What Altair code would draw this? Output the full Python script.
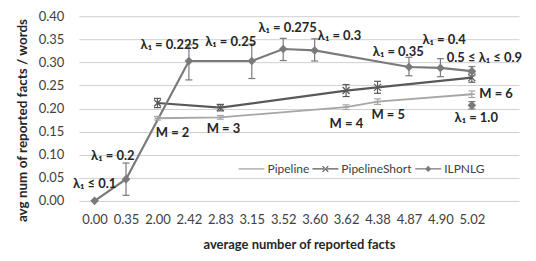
import altair as alt
import pandas as pd

categories = ["0.00", "0.35", "2.00", "2.42", "2.83", "3.15", "3.52",
              "3.60", "3.62", "4.38", "4.87", "4.90", "5.02"]

series_names = ["Pipeline", "PipelineShort", "ILPNLG"]

pipeline = [None, None, 0.179, None, 0.181, None, None, None, 0.203, 0.215, None, None, 0.231]
pipeline_err = [None, None, 0.004, None, 0.004, None, None, None, 0.005, 0.006, None, None, 0.007]

pipeline_short = [None, None, 0.212, None, 0.202, None, None, None, 0.239, 0.246, None, None, 0.267]
pipeline_short_err = [None, None, 0.010, None, 0.007, None, None, None, 0.013, 0.013, None, None, 0.010]

ilpnlg = [0.000, 0.047, None, 0.303, None, 0.303, 0.329, 0.326, None, None, 0.290, 0.288, 0.281]
ilpnlg_lo = [None, 0.012, None, 0.262, None, 0.265, 0.304, 0.303, None, None, 0.271, 0.269, 0.271]
ilpnlg_hi = [None, 0.082, None, 0.338, None, 0.340, 0.352, 0.351, None, None, 0.311, 0.308, 0.291]

# lambda_1 = 1.0 point (drawn unconnected at 5.02)
extra_cat = "5.02"
extra_val = 0.207
extra_err = 0.008

ann_text = ["λ₁ ≤ 0.1", "λ₁ = 0.2", "λ₁ = 0.225", "λ₁ = 0.25", "λ₁ = 0.275",
            "λ₁ = 0.3", "λ₁ = 0.35", "λ₁ = 0.4", "0.5 ≤ λ₁ ≤ 0.9", "λ₁ = 1.0",
            "M = 2", "M = 3", "M = 4", "M = 5", "M = 6"]
ann_x = [0.0, 0.58, 2.39, 4.33, 6.14, 7.79, 9.66, 11.12, 12.4, 12.14,
         2.48, 4.1, 8.01, 9.34, 12.77]
ann_y = [0.036, 0.097, 0.337, 0.344, 0.375, 0.357, 0.322, 0.348, 0.309, 0.179,
         0.147, 0.156, 0.166, 0.186, 0.231]

y_ticks = [0, 0.05, 0.1, 0.15, 0.2, 0.25, 0.3, 0.35, 0.4]

FONT = "Lato"
colors = {"Pipeline": "#a6a6a6", "PipelineShort": "#595959", "ILPNLG": "#7a7a7a"}


def frame(vals, lo, hi):
    rows = []
    for i, v in enumerate(vals):
        if v is None:
            continue
        rows.append({"x": i, "y": v, "lo": lo[i] if lo[i] is not None else v,
                     "hi": hi[i] if hi[i] is not None else v})
    return pd.DataFrame(rows)


def sym_err(vals, err):
    lo = [None if v is None else v - e for v, e in zip(vals, err)]
    hi = [None if v is None else v + e for v, e in zip(vals, err)]
    return lo, hi


pl_lo, pl_hi = sym_err(pipeline, pipeline_err)
ps_lo, ps_hi = sym_err(pipeline_short, pipeline_short_err)

data = {
    "Pipeline": frame(pipeline, pl_lo, pl_hi),
    "PipelineShort": frame(pipeline_short, ps_lo, ps_hi),
    "ILPNLG": frame(ilpnlg, ilpnlg_lo, ilpnlg_hi),
}
extra_df = pd.DataFrame([{"x": categories.index(extra_cat), "y": extra_val,
                          "lo": extra_val - extra_err, "hi": extra_val + extra_err}])

label_expr = "[" + ",".join("'%s'" % c for c in categories) + "][datum.value]"

x_scale = alt.Scale(domain=[-0.5, 13.5], nice=False, zero=False)
x_axis = alt.Axis(values=list(range(len(categories))), labelExpr=label_expr,
                  grid=False, domain=False, ticks=False, labelPadding=13,
                  labelFont=FONT, labelFontSize=13, labelColor="#404040",
                  labelFlush=False, labelOverlap=False,
                  title="average number of reported facts",
                  titleFont=FONT, titleFontSize=13, titleFontWeight="bold",
                  titleColor="#262626", titlePadding=12)
y_scale = alt.Scale(domain=[0, 0.4], nice=False)
y_axis = alt.Axis(values=y_ticks, format=".2f", grid=True, gridColor="#d0d0d0", gridWidth=1,
                  domain=False, ticks=False, labelPadding=15,
                  labelFont=FONT, labelFontSize=13, labelColor="#404040",
                  labelOverlap=False,
                  title="avg num of reported facts / words",
                  titleFont=FONT, titleFontSize=13.5, titleFontWeight="bold",
                  titleColor="#262626", titlePadding=9, titleY=104)


def X(f):
    return alt.X(f + ":Q", scale=x_scale, axis=x_axis)


def Y(f):
    return alt.Y(f + ":Q", scale=y_scale, axis=y_axis)


markers = {
    "Pipeline": dict(shape="M-1,0L1,0", size=36, filled=False, strokeWidth=1.5),
    "PipelineShort": dict(shape="M-1,-1L1,1M-1,1L1,-1", size=49, filled=False, strokeWidth=1.2),
    "ILPNLG": dict(shape="diamond", size=75, filled=True, strokeWidth=0),
}
line_w = {"Pipeline": 1.8, "PipelineShort": 2.2, "ILPNLG": 2.2}

layers = []
for name in series_names:
    layers.append(alt.Chart(data[name]).mark_line(color=colors[name], strokeWidth=line_w[name])
                  .encode(x=X("x"), y=Y("y")))
for name in series_names + ["extra"]:
    df = extra_df if name == "extra" else data[name]
    c = colors["ILPNLG"] if name == "extra" else colors[name]
    base = alt.Chart(df)
    layers.append(base.mark_rule(color=c, strokeWidth=1.2).encode(
        x=X("x"), y=Y("lo"), y2="hi:Q"))
    for f in ["lo", "hi"]:
        layers.append(base.mark_rule(color=c, strokeWidth=1.2, xOffset=-3.5, x2Offset=3.5).encode(
            x=X("x"), x2="x:Q", y=Y(f)))
    m = markers["ILPNLG" if name == "extra" else name]
    layers.append(base.mark_point(color=c, opacity=1, **m).encode(x=X("x"), y=Y("y")))

# annotations
ann_df = pd.DataFrame({"label": ann_text, "ax": ann_x, "ay": ann_y})
layers.append(alt.Chart(ann_df).mark_text(font=FONT, fontSize=13, fontWeight="bold",
                                          color="#262626", baseline="middle").encode(
    x=X("ax"), y=Y("ay"), text="label:N"))

# legend carrier (rows have no y value, so nothing is drawn)
legend_paths = [
    "M-1,-0.05L1,-0.05L1,0.05L-1,0.05Z",
    "M-1,-0.05L1,-0.05L1,0.05L-1,0.05ZM-0.25,-0.19L0.19,0.25L0.25,0.19L-0.19,-0.25ZM-0.25,0.19L-0.19,0.25L0.25,-0.19L0.19,-0.25Z",
    "M-1,-0.05L1,-0.05L1,0.05L-1,0.05ZM0,-0.24L0.24,0L0,0.24L-0.24,0Z",
]
leg_df = pd.DataFrame({"series": series_names, "x": [0, 0, 0], "y": [None, None, None]})
legend = alt.Legend(orient="none", legendX=160, legendY=140, direction="horizontal",
                    title=None, labelFont=FONT, labelFontSize=12, labelColor="#404040",
                    symbolSize=676, symbolStrokeWidth=0, symbolOpacity=1,
                    columnPadding=3, labelOffset=3, padding=0)
layers.append(alt.Chart(leg_df).mark_point(filled=True, opacity=1).encode(
    x=X("x"), y=Y("y"),
    color=alt.Color("series:N", scale=alt.Scale(domain=series_names,
                                                range=[colors[s] for s in series_names]),
                    legend=legend),
    shape=alt.Shape("series:N", scale=alt.Scale(domain=series_names, range=legend_paths),
                    legend=legend)))

chart = alt.layer(*layers).properties(
    width=441, height=185,
    padding={"left": 7, "top": 2, "right": 5, "bottom": 0},
    background="white",
).configure_view(stroke=None).configure_axis(labelOverlap=False)

chart.save("out.html", embed_options={"renderer": "svg", "actions": False})
